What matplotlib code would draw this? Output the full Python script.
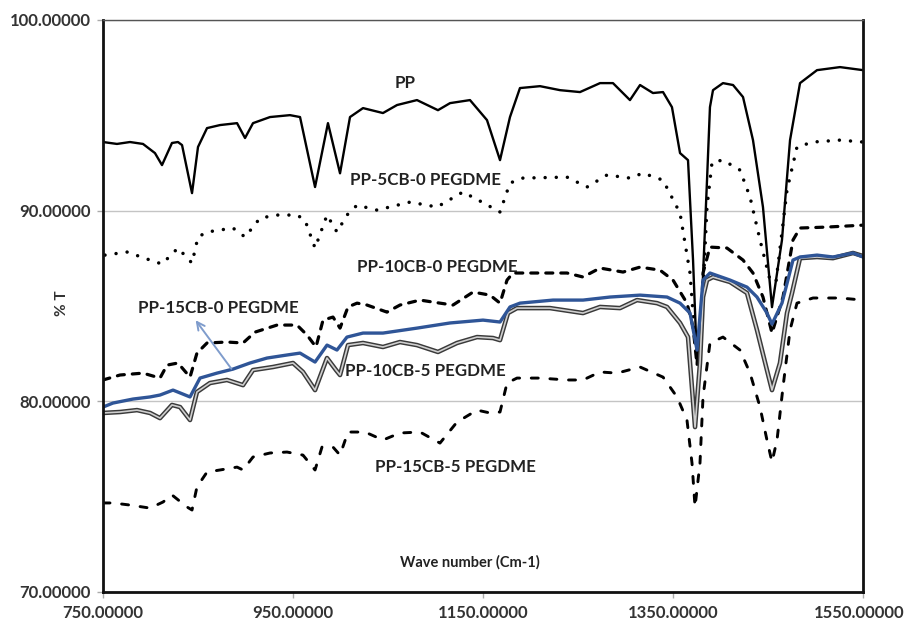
import numpy as np
from matplotlib import pyplot as plt
from matplotlib import transforms

plt.rcParams['font.family'] = ['Lato', 'DejaVu Sans']

# PP (solid black)
pp_x = [750, 764.7, 778.4, 792.1, 804.7, 812.1, 822.6, 828.9, 833.2, 843.7, 850.0, 859.5, 873.2, 891.1,
        899.5, 907.9, 925.8, 946.8, 957.4, 973.2, 986.8, 999.5, 1010.0, 1023.7, 1044.7, 1059.5, 1080.5,
        1102.6, 1115.3, 1136.3, 1154.2, 1167.9, 1178.4, 1188.9, 1210.0, 1231.1, 1252.1, 1273.2, 1286.8,
        1304.7, 1315.3, 1328.9, 1339.5, 1348.9, 1357.4, 1365.8, 1371.1, 1375.3, 1380.5, 1385.8, 1388.9,
        1392.1, 1402.6, 1413.2, 1423.7, 1434.2, 1444.7, 1454.2, 1464.7, 1473.2, 1483.7, 1501.6, 1525.8, 1550]
pp_y = [93.60, 93.50, 93.60, 93.50, 93.02, 92.39, 93.55, 93.60, 93.44, 90.92, 93.34, 94.33, 94.49, 94.59,
        93.81, 94.59, 94.91, 95.01, 94.91, 91.24, 94.59, 91.96, 94.91, 95.38, 95.12, 95.54, 95.80,
        95.27, 95.64, 95.80, 94.75, 92.65, 94.91, 96.43, 96.53, 96.32, 96.22, 96.69, 96.69,
        95.80, 96.59, 96.17, 96.22, 95.43, 93.02, 92.65, 87.4, 82.0, 85.3, 91.6, 95.43,
        96.32, 96.69, 96.59, 95.96, 93.70, 90.19, 84.94, 88.46, 93.70, 96.69, 97.37, 97.53, 97.37]

# PP-5CB-0 PEGDME (dotted)
cb5_x = [752.1, 775.3, 799.5, 812.1, 828.9, 843.7, 850.0, 859.5, 886.8, 899.5, 915.3, 933.2, 954.2, 962.6,
         973.2, 985.8, 996.3, 1006.8, 1017.4, 1038.4, 1073.2, 1101.6, 1128.9, 1148.9, 1167.9, 1178.4,
         1192.1, 1238.4, 1259.5, 1280.5, 1304.7, 1318.4, 1339.5, 1357.4, 1367.9, 1373.2, 1379.5, 1385.8,
         1391.1, 1402.6, 1420.5, 1431.1, 1441.6, 1452.1, 1458.4, 1470.0, 1480.5, 1497.4, 1525.8, 1550]
cb5_y = [87.67, 87.83, 87.41, 87.20, 88.04, 87.25, 88.62, 88.88, 89.09, 88.62, 89.61, 89.77, 89.77, 89.51,
         88.04, 89.77, 88.88, 89.77, 90.29, 90.03, 90.45, 90.19, 90.98, 90.45, 89.93, 91.45,
         91.71, 91.76, 91.24, 91.87, 91.71, 91.97, 91.60, 89.87, 86.73, 83.21, 83.7, 90.19,
         92.55, 92.65, 92.13, 90.71, 88.46, 86.36, 86.26, 91.08, 93.34, 93.60, 93.70, 93.60]

# PP-10CB-0 PEGDME (dashed)
cb10_x = [750, 767.9, 792.1, 810.0, 817.4, 828.9, 841.6, 848.9, 859.5, 880.5, 897.4, 910.0, 933.2, 954.2,
          964.7, 974.2, 981.6, 992.1, 999.5, 1007.9, 1017.4, 1027.9, 1048.9, 1062.6, 1083.7, 1104.7,
          1118.4, 1139.5, 1157.4, 1167.9, 1175.3, 1181.6, 1202.6, 1238.4, 1255.3, 1273.2, 1297.4, 1315.3,
          1336.3, 1350.0, 1364.7, 1371.1, 1375.3, 1379.5, 1381.6, 1388.9, 1406.8, 1423.7, 1434.2, 1444.7,
          1454.2, 1465.8, 1476.3, 1483.7, 1512.1, 1550]
cb10_y = [81.12, 81.38, 81.48, 81.22, 81.90, 82.01, 81.27, 82.53, 83.06, 83.11, 83.06, 83.63, 84.00, 84.00,
          83.48, 82.85, 84.26, 84.42, 83.84, 84.95, 85.15, 85.05, 84.68, 85.05, 85.31, 85.15,
          85.05, 85.73, 85.57, 85.15, 86.36, 86.73, 86.73, 86.73, 86.52, 86.99, 86.78, 87.04,
          86.88, 86.36, 85.15, 83.90, 81.90, 83.74, 86.73, 88.09, 88.04, 87.41, 86.73, 85.47,
          83.58, 85.47, 88.46, 89.09, 89.14, 89.24]

# PP-15CB-0 PEGDME (blue)
cb15_x = [750, 760.5, 781.6, 799.5, 810.0, 823.7, 841.6, 852.1, 870.0, 886.8, 904.7, 922.6, 943.7, 957.4,
          973.2, 985.8, 996.3, 1006.8, 1023.7, 1044.7, 1080.5, 1115.3, 1150.0, 1167.9, 1178.4, 1188.9,
          1223.7, 1255.3, 1283.7, 1315.3, 1343.7, 1357.4, 1367.9, 1375.3, 1381.6, 1388.9, 1410.0, 1427.9,
          1438.4, 1448.9, 1454.2, 1464.7, 1476.3, 1483.7, 1501.6, 1518.4, 1539.5, 1550]
cb15_y = [79.70, 79.91, 80.12, 80.23, 80.33, 80.59, 80.23, 81.22, 81.48, 81.69, 82.01, 82.27, 82.43, 82.53,
          82.06, 82.95, 82.69, 83.37, 83.58, 83.58, 83.84, 84.11, 84.26, 84.16, 84.95, 85.15,
          85.31, 85.31, 85.47, 85.57, 85.47, 85.15, 84.63, 82.69, 86.36, 86.73, 86.36, 85.99,
          85.47, 84.63, 84.05, 85.15, 87.41, 87.57, 87.67, 87.57, 87.78, 87.57]

# PP-10CB-5 PEGDME (grey double line)
cb10p_x = [750, 767.9, 785.8, 799.5, 810.0, 822.6, 831.1, 841.6, 848.9, 862.6, 880.5, 897.4, 907.9, 928.9,
           950.0, 960.5, 973.2, 985.8, 995.3, 999.5, 1007.9, 1023.7, 1044.7, 1062.6, 1080.5, 1102.6,
           1122.6, 1143.7, 1160.5, 1167.9, 1176.3, 1185.8, 1220.5, 1255.3, 1273.2, 1294.2, 1312.1, 1333.2,
           1343.7, 1357.4, 1365.8, 1373.2, 1378.4, 1381.6, 1385.8, 1392.1, 1410.0, 1427.9, 1438.4, 1448.9,
           1454.2, 1462.6, 1470.0, 1475.3, 1483.7, 1501.6, 1518.4, 1539.5, 1550]
cb10p_y = [79.39, 79.44, 79.54, 79.39, 79.12, 79.81, 79.70, 79.02, 80.49, 80.96, 81.12, 80.85, 81.64, 81.80,
           82.01, 81.54, 80.59, 82.27, 81.64, 81.38, 82.95, 83.06, 82.85, 83.11, 82.95, 82.59,
           83.06, 83.37, 83.32, 83.21, 84.63, 84.89, 84.89, 84.63, 84.95, 84.89, 85.31, 85.15,
           84.95, 84.11, 83.37, 78.65, 82.01, 85.47, 86.36, 86.52, 86.26, 85.68, 83.74, 81.64,
           80.59, 82.01, 84.63, 85.68, 87.51, 87.57, 87.51, 87.78, 87.62]

# PP-15CB-5 PEGDME (long dashes)
cb15p_x = [750, 760.5, 778.4, 799.5, 813.2, 822.6, 838.4, 843.7, 848.9, 859.5, 873.2, 891.1, 897.4, 907.9,
           925.8, 943.7, 960.5, 973.2, 980.5, 992.1, 999.5, 1007.9, 1025.8, 1044.7, 1062.6, 1083.7,
           1104.7, 1122.6, 1143.7, 1157.4, 1167.9, 1175.3, 1185.8, 1210.0, 1238.4, 1255.3, 1273.2, 1291.1,
           1315.3, 1339.5, 1354.2, 1364.7, 1370.0, 1373.2, 1378.4, 1381.6, 1388.9, 1402.6, 1420.5, 1431.1,
           1441.6, 1448.9, 1454.2, 1459.5, 1465.8, 1473.2, 1480.5, 1497.4, 1525.8, 1550]
cb15p_y = [74.67, 74.67, 74.56, 74.40, 74.72, 75.09, 74.46, 74.30, 75.51, 76.29, 76.40, 76.55, 76.40, 77.08,
           77.29, 77.34, 77.18, 76.40, 77.60, 77.60, 77.18, 78.39, 78.39, 77.97, 78.34, 78.39,
           77.81, 78.91, 79.54, 79.39, 79.44, 80.96, 81.22, 81.22, 81.12, 81.12, 81.54, 81.48,
           81.80, 81.27, 80.23, 79.02, 76.76, 74.46, 76.76, 80.23, 83.06, 83.37, 82.69, 81.48,
           79.70, 77.97, 76.82, 77.97, 80.75, 83.74, 85.15, 85.42, 85.42, 85.31]

x_ticks = [750, 950, 1150, 1350, 1550]
y_ticks = [70, 80, 90, 100]

fig = plt.figure(figsize=(9.08, 6.23), dpi=100)
ax = fig.add_axes([103 / 908, 1 - 592 / 623, 760 / 908, 572 / 623])

ax.plot(pp_x, pp_y, color='black', lw=1.7, solid_joinstyle='round')
ax.plot(cb5_x, cb5_y, color='black', lw=2.5, linestyle=(0, (0.01, 3.2)), dash_capstyle='round')
ax.plot(cb10_x, cb10_y, color='black', lw=2.3, linestyle=(0, (2.2, 2.5)), dash_capstyle='round')
ax.plot(cb15p_x, cb15p_y, color='black', lw=2.1, linestyle=(0, (2.4, 4.0)), dash_capstyle='round')
ax.plot(cb10p_x, cb10p_y, color='#3a3a3a', lw=3.3, solid_joinstyle='round')
ax.plot(cb10p_x, cb10p_y, color='#cfcfcf', lw=1.2, solid_joinstyle='round')
ax.plot(cb15_x, cb15_y, color='#2f5597', lw=2.4, solid_joinstyle='round')

ax.set_xlim(750, 1550)
ax.set_ylim(70, 100)
ax.set_xticks(x_ticks)
ax.set_yticks(y_ticks)
ax.set_xticklabels(['{:.5f}'.format(v) for v in x_ticks])
ax.set_yticklabels(['{:.5f}'.format(v) for v in y_ticks])
ax.tick_params(axis='both', labelsize=12, labelcolor='#333333', color='#aaaaaa',
               length=4, width=1, pad=5)
for lab in ax.get_xticklabels() + ax.get_yticklabels():
    lab.set_fontweight('bold')
# nudge the last x label a few pixels left so it stays inside the picture
last = ax.get_xticklabels()[-1]
last.set_transform(last.get_transform() + transforms.ScaledTranslation(-4 / 100, 0, fig.dpi_scale_trans))

ax.grid(axis='y', color='#c4c4c4', lw=1)
ax.set_axisbelow(True)
for side in ['left', 'bottom', 'right']:
    ax.spines[side].set_linewidth(2)
    ax.spines[side].set_color('#111111')
ax.spines['top'].set_linewidth(1)
ax.spines['top'].set_color('#555555')

lab_kw = dict(xycoords='figure pixels', fontsize=12.2, fontweight='bold', color='#222222', va='center')
ax.annotate('PP', xy=(405, 623 - 83), ha='center', **lab_kw)
ax.annotate('PP-5CB-0 PEGDME', xy=(350, 623 - 180), ha='left', **lab_kw)
ax.annotate('PP-10CB-0 PEGDME', xy=(357, 623 - 267), ha='left', **lab_kw)
ax.annotate('PP-15CB-0 PEGDME', xy=(138, 623 - 308), ha='left', **lab_kw)
ax.annotate('PP-10CB-5 PEGDME', xy=(345, 623 - 371), ha='left', **lab_kw)
ax.annotate('PP-15CB-5 PEGDME', xy=(375, 623 - 467), ha='left', **lab_kw)
ax.annotate('Wave number (Cm-1)', xy=(470, 623 - 562), xycoords='figure pixels', ha='center',
            va='center', fontsize=10.5, fontweight='bold', color='#222222')
ax.annotate('', xy=(194, 623 - 318), xytext=(233, 623 - 371), xycoords='figure pixels',
            textcoords='figure pixels',
            arrowprops=dict(arrowstyle='->', color='#7f9ccc', lw=1.4, mutation_scale=14))
fig.text(62 / 908, 1 - 303 / 623, '% T', rotation=90, ha='center', va='center',
         fontsize=11, fontweight='bold', color='#333333')

plt.savefig('out.png', dpi=100)
